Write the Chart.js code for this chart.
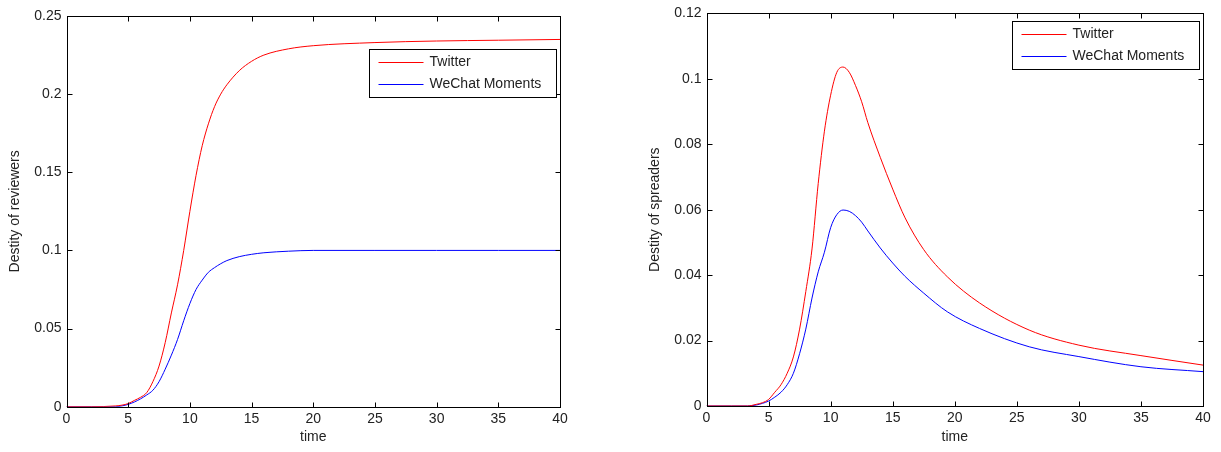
<!DOCTYPE html>
<html>
<head>
<meta charset="utf-8">
<script src="https://cdn.jsdelivr.net/npm/chart.js@4/dist/chart.umd.min.js"></script>
<style>
  body { margin: 0; background: #fff; width: 1221px; height: 452px; overflow: hidden; }
  canvas { position: absolute; top: 0; }
  #reviewersChart { left: 0; }
  #spreadersChart { left: 640px; }
</style>
</head>
<body>
<canvas id="reviewersChart" width="610" height="452"></canvas>
<canvas id="spreadersChart" width="581" height="452"></canvas>
<script>
// Data
const seriesNames = ['Twitter', 'WeChat Moments'];

const reviewerTime = [0, 2, 4, 4.5, 5, 5.5, 6, 6.5, 7, 7.5, 8, 8.5, 9, 9.5, 10, 10.5, 11, 11.5, 12, 12.5, 13, 14, 15, 16, 18, 20, 25, 30, 35, 40];
const reviewersTwitter = [0, 0, 0.0005, 0.001, 0.002, 0.004, 0.006, 0.009, 0.016, 0.026, 0.041, 0.06, 0.078, 0.1, 0.125, 0.148, 0.167, 0.181, 0.192, 0.2, 0.206, 0.215, 0.221, 0.225, 0.229, 0.231, 0.233, 0.234, 0.2345, 0.235];
const reviewersWeChat = [0, 0, 0, 0.0005, 0.0015, 0.003, 0.005, 0.0075, 0.0105, 0.016, 0.024, 0.033, 0.043, 0.055, 0.066, 0.075, 0.081, 0.086, 0.089, 0.0915, 0.0935, 0.096, 0.0975, 0.0985, 0.0995, 0.1, 0.1, 0.1, 0.1, 0.1];

const spreaderTime = [0, 2, 3.3, 4, 4.5, 5, 5.5, 6, 6.5, 7, 7.5, 8, 8.5, 9, 9.5, 10, 10.5, 11, 11.5, 12, 12.5, 13, 14, 15, 16, 17.5, 19.4, 22, 26, 30, 35, 40];
const spreadersTwitter = [0, 0, 0, 0.0005, 0.001, 0.002, 0.0042, 0.0065, 0.01, 0.015, 0.0235, 0.035, 0.048, 0.068, 0.084, 0.095, 0.102, 0.1036, 0.102, 0.098, 0.093, 0.0866, 0.076, 0.0663, 0.0575, 0.0478, 0.0395, 0.0315, 0.0232, 0.0186, 0.0154, 0.0125];
const spreadersWeChat = [0, 0, 0, 0.0003, 0.0008, 0.0015, 0.0027, 0.0042, 0.0065, 0.01, 0.016, 0.0235, 0.033, 0.041, 0.047, 0.0545, 0.0585, 0.0599, 0.0595, 0.0582, 0.0562, 0.0535, 0.0483, 0.0437, 0.0396, 0.0345, 0.0288, 0.0237, 0.0181, 0.0151, 0.012, 0.0105];

const timeTicks = [0, 5, 10, 15, 20, 25, 30, 35, 40];
const reviewerTicks = [0, 0.05, 0.1, 0.15, 0.2, 0.25];
const spreaderTicks = [0, 0.02, 0.04, 0.06, 0.08, 0.1, 0.12];

const FONT = '"Liberation Sans", Arial, sans-serif';
Chart.defaults.font.family = FONT;
Chart.defaults.font.size = 14;
Chart.defaults.color = '#222';

// MATLAB style box, inward ticks and boxed legend
const matlabBox = {
    id: 'matlabBox',
    afterDatasetsDraw(chart, args, opts) {
        const { ctx, chartArea: a, scales: { x, y } } = chart;
        const L = Math.round(a.left) + 0.5, R = Math.round(a.right) + 0.5;
        const T = Math.round(a.top) + 0.5, B = Math.round(a.bottom) + 0.5;
        ctx.save();
        ctx.strokeStyle = '#000';
        ctx.lineWidth = 1;
        ctx.strokeRect(L, T, R - L, B - T);
        ctx.beginPath();
        x.ticks.forEach(t => {
            const px = Math.round(x.getPixelForValue(t.value)) + 0.5;
            ctx.moveTo(px, B); ctx.lineTo(px, B - 5);
            ctx.moveTo(px, T); ctx.lineTo(px, T + 5);
        });
        y.ticks.forEach(t => {
            const py = Math.round(y.getPixelForValue(t.value)) + 0.5;
            ctx.moveTo(L, py); ctx.lineTo(L + 5, py);
            ctx.moveTo(R, py); ctx.lineTo(R - 5, py);
        });
        ctx.stroke();

        // legend
        const w = 187, h = 48;
        const bx = Math.round(a.right - opts.legendRight - w) + 0.5;
        const by = Math.round(a.top + opts.legendTop) + 0.5;
        ctx.fillStyle = '#fff';
        ctx.fillRect(bx, by, w, h);
        ctx.strokeRect(bx, by, w, h);
        ctx.font = '14px ' + FONT;
        ctx.textBaseline = 'middle';
        chart.data.datasets.forEach((ds, i) => {
            const ly = Math.round(by + 12.5 + i * 21.5) + 0.5;
            ctx.strokeStyle = ds.borderColor;
            ctx.beginPath();
            ctx.moveTo(bx + 9, ly); ctx.lineTo(bx + 54, ly);
            ctx.stroke();
            ctx.fillStyle = '#222';
            ctx.fillText(ds.label, bx + 60, ly);
        });
        ctx.restore();
    }
};

const toPoints = (xs, ys) => xs.map((t, i) => ({ x: t, y: ys[i] }));

function makeChart(id, xs, twitter, wechat, yTicks, yTitle, pad, legendTop) {
    new Chart(document.getElementById(id), {
        type: 'line',
        data: {
            datasets: [
                { label: seriesNames[0], data: toPoints(xs, twitter), borderColor: '#ff0000' },
                { label: seriesNames[1], data: toPoints(xs, wechat), borderColor: '#0000ff' }
            ]
        },
        options: {
            responsive: false,
            animation: false,
            events: [],
            layout: { padding: { left: 0, top: pad.top, right: pad.right, bottom: 0 } },
            elements: {
                line: { borderWidth: 1, cubicInterpolationMode: 'monotone', fill: false },
                point: { radius: 0 }
            },
            plugins: {
                legend: { display: false },
                tooltip: { enabled: false },
                matlabBox: { legendRight: 4, legendTop: legendTop }
            },
            scales: {
                x: {
                    type: 'linear',
                    min: 0,
                    max: 40,
                    afterBuildTicks: s => { s.ticks = timeTicks.map(v => ({ value: v })); },
                    afterFit: s => { s.height = 452 - pad.bottom; },
                    grid: { display: false, drawTicks: false },
                    border: { display: false },
                    ticks: { autoSkip: false, maxRotation: 0, padding: 4, callback: v => String(v) },
                    title: { display: true, text: 'time', padding: { top: 0, bottom: 6 } }
                },
                y: {
                    type: 'linear',
                    min: 0,
                    max: yTicks[yTicks.length - 1],
                    afterBuildTicks: s => { s.ticks = yTicks.map(v => ({ value: v })); },
                    afterFit: s => { s.width = pad.left; },
                    grid: { display: false, drawTicks: false },
                    border: { display: false },
                    ticks: { autoSkip: false, padding: 5, callback: v => String(v) },
                    title: { display: true, text: yTitle, padding: 7 }
                }
            }
        },
        plugins: [matlabBox]
    });
}

makeChart('reviewersChart', reviewerTime, reviewersTwitter, reviewersWeChat, reviewerTicks,
    'Destity of reviewers', { left: 66.5, top: 16, right: 50, bottom: 406.7 }, 33);
makeChart('spreadersChart', spreaderTime, spreadersTwitter, spreadersWeChat, spreaderTicks,
    'Destity of spreaders', { left: 66.5, top: 13, right: 18, bottom: 406 }, 8);
</script>
</body>
</html>
